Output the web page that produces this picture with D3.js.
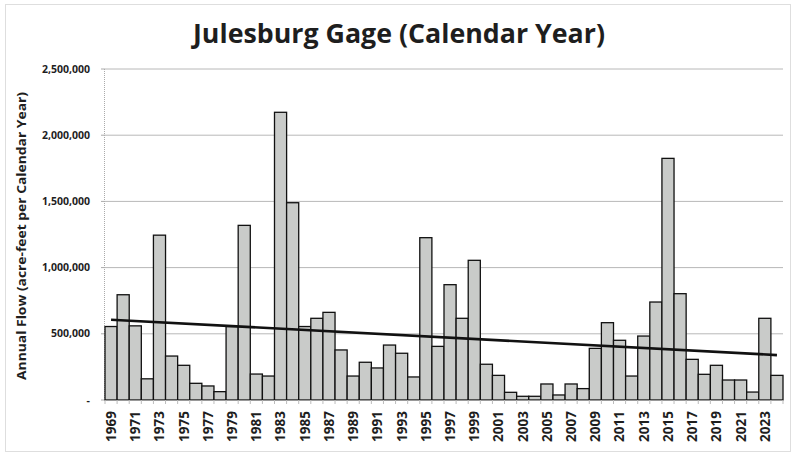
<!DOCTYPE html>
<html>
<head>
<meta charset="utf-8">
<script src="https://cdn.jsdelivr.net/npm/d3@7"></script>
<style>
  body { margin: 0; background: #fff; }
  svg { display: block; }
  text { font-family: "Open Sans", "Liberation Sans", sans-serif; font-weight: bold; fill: #1e1e1e; }
</style>
</head>
<body>
<svg id="chart" width="793" height="455"></svg>
<script>
const years = d3.range(1969, 2025);
const flows = [
  555000, 795000, 560000, 160000, 1245000, 332000, 262000, 126000, 106000, 63000,
  555000, 1319000, 196000, 181000, 2173000, 1490000, 555000, 617000, 662000, 378000,
  181000, 285000, 242000, 415000, 353000, 174000, 1226000, 405000, 871000, 617000,
  1055000, 270000, 186000, 58000, 28000, 28000, 121000, 38000, 121000, 86000,
  390000, 584000, 451000, 181000, 483000, 740000, 1825000, 803000, 307000, 194000,
  262000, 151000, 151000, 60000, 617000, 186000
];
const yTicks = [0, 500000, 1000000, 1500000, 2000000, 2500000];
const yTickLabels = ["-", "500,000", "1,000,000", "1,500,000", "2,000,000", "2,500,000"];
const titleText = "Julesburg Gage (Calendar Year)";
const yTitleText = "Annual Flow (acre-feet per Calendar Year)";

const svg = d3.select("#chart");
const plot = { left: 105, right: 783, top: 69, bottom: 400 };

// outer frame
svg.append("rect").attr("x", 5.5).attr("y", 4.5).attr("width", 785).attr("height", 447)
  .attr("fill", "none").attr("stroke", "#bdbdbd").attr("stroke-width", 1).attr("stroke-dasharray", "1,1");

const x = d3.scaleBand().domain(years).range([plot.left, plot.right]).paddingInner(0).paddingOuter(0);
const y = d3.scaleLinear().domain([0, 2500000]).range([plot.bottom, plot.top]);

// gridlines
svg.append("g").selectAll("line").data(yTicks.slice(1)).join("line")
  .attr("x1", plot.left).attr("x2", plot.right)
  .attr("y1", d => y(d)).attr("y2", d => y(d))
  .attr("stroke", "#b8b8b8").attr("stroke-width", 1);

// y axis (dotted line)
svg.append("line").attr("x1", plot.left - 0.5).attr("x2", plot.left - 0.5)
  .attr("y1", plot.top).attr("y2", plot.bottom)
  .attr("stroke", "#aaaaaa").attr("stroke-dasharray", "1,1");

// y tick labels
svg.append("g").selectAll("text").data(yTicks).join("text")
  .attr("x", 90).attr("y", d => y(d)).attr("dy", "0.35em")
  .attr("text-anchor", "end").attr("font-size", "10.5px")
  .text((d, i) => yTickLabels[i]);

// y tick marks
svg.append("g").selectAll("line").data(yTicks).join("line")
  .attr("x1", plot.left - 4).attr("x2", plot.left).attr("y1", d => y(d)).attr("y2", d => y(d))
  .attr("stroke", "#aaaaaa");

// bars
svg.append("g").selectAll("rect").data(years).join("rect")
  .attr("x", d => x(d))
  .attr("width", x.bandwidth())
  .attr("y", (d, i) => y(flows[i]))
  .attr("height", (d, i) => y(0) - y(flows[i]))
  .attr("fill", "#c9cbc9").attr("stroke", "#111").attr("stroke-width", 1.3);

// x axis baseline
svg.append("line").attr("x1", plot.left).attr("x2", plot.right)
  .attr("y1", plot.bottom + 0.5).attr("y2", plot.bottom + 0.5).attr("stroke", "#999");
svg.append("g").selectAll("line").data(years.concat([2025])).join("line")
  .attr("x1", d => d === 2025 ? plot.right : x(d)).attr("x2", d => d === 2025 ? plot.right : x(d))
  .attr("y1", plot.bottom).attr("y2", plot.bottom + 4).attr("stroke", "#bbb");

// x labels, every other year
svg.append("g").selectAll("text").data(years.filter(yy => (yy - 1969) % 2 === 0)).join("text")
  .attr("transform", d => `translate(${x(d) + x.bandwidth() / 2},411) rotate(-90)`)
  .attr("text-anchor", "end").attr("dy", "0.36em").attr("font-size", "13.5px")
  .text(d => d);

// linear trend line (least squares on the data)
const n = years.length;
const mx = d3.mean(years), my = d3.mean(flows);
let sxy = 0, sxx = 0;
years.forEach((yy, i) => { sxy += (yy - mx) * (flows[i] - my); sxx += (yy - mx) * (yy - mx); });
const slope = sxy / sxx, intercept = my - slope * mx;
const y0 = years[0], y1 = years[n - 1];
svg.append("line")
  .attr("x1", x(y0) + x.bandwidth() / 2).attr("y1", y(intercept + slope * y0))
  .attr("x2", x(y1) + x.bandwidth() / 2).attr("y2", y(intercept + slope * y1))
  .attr("stroke", "#111").attr("stroke-width", 2.6);

// title
svg.append("text").attr("x", 399).attr("y", 43).attr("text-anchor", "middle")
  .attr("font-size", "27px").attr("textLength", 412).attr("lengthAdjust", "spacingAndGlyphs")
  .text(titleText);

// y axis title
svg.append("text").attr("transform", "translate(22,236) rotate(-90)")
  .attr("text-anchor", "middle").attr("dy", "0.35em").attr("font-size", "12.5px")
  .attr("textLength", 288).attr("lengthAdjust", "spacingAndGlyphs")
  .text(yTitleText);
</script>
</body>
</html>
